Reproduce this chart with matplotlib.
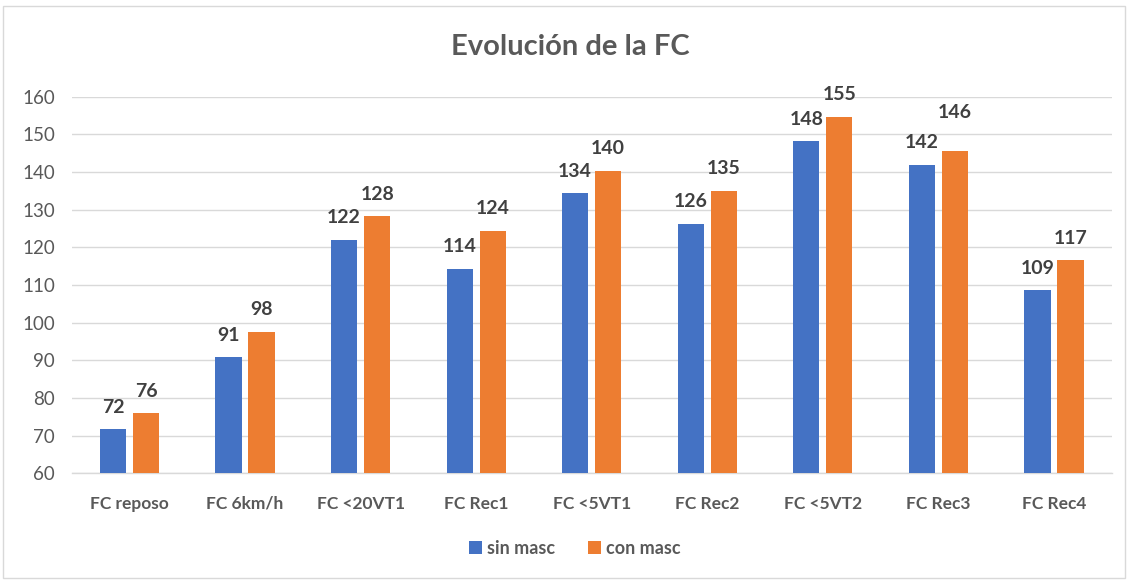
import matplotlib
matplotlib.use("Agg")
import matplotlib.pyplot as plt
from matplotlib.patches import Rectangle
import numpy as np

categories = ["FC reposo", "FC 6km/h", "FC <20VT1", "FC Rec1", "FC <5VT1",
              "FC Rec2", "FC <5VT2", "FC Rec3", "FC Rec4"]
sin_masc = [71.7, 90.8, 122.0, 114.3, 134.3, 126.2, 148.1, 141.9, 108.6]
con_masc = [75.9, 97.6, 128.2, 124.4, 140.3, 135.0, 154.7, 145.6, 116.6]
series_names = ["sin masc", "con masc"]
yticks = [60, 70, 80, 90, 100, 110, 120, 130, 140, 150, 160]

BLUE = "#4472C4"
ORANGE = "#ED7D31"
GRAY = "#595959"
LABEL = "#404040"

plt.rcParams['font.family'] = ['Lato', 'DejaVu Sans']

fig = plt.figure(figsize=(11.3, 5.81), dpi=100)
ax = fig.add_axes([0.0635, 0.1854, 0.9203, 0.6482])

x = np.arange(len(categories))
w = 0.227
off = 0.143
b1 = ax.bar(x - off, sin_masc, w, color=BLUE, label=series_names[0], zorder=3)
b2 = ax.bar(x + off, con_masc, w, color=ORANGE, label=series_names[1], zorder=3)

for bars, vals in ((b1, sin_masc), (b2, con_masc)):
    for rect, v in zip(bars, vals):
        extra = 16 if (vals is con_masc and v == 145.6) else 0
        ax.annotate(f"{round(v):d}", (rect.get_x() + rect.get_width() / 2, v),
                    xytext=(0, 22 + extra), textcoords="offset pixels",
                    ha="center", va="center", fontsize=14, fontweight="bold",
                    color=LABEL, zorder=4)

ax.set_xlim(-0.5, len(categories) - 0.5)
ax.set_ylim(60, 160)
ax.set_yticks(yticks)
ax.set_xticks(x)
ax.set_xticklabels(categories, fontsize=12.5, fontweight="bold", color=GRAY)
ax.tick_params(axis="y", labelsize=13.5, colors=GRAY, length=0, pad=12)
ax.tick_params(axis="x", length=0, pad=16)
ax.grid(axis="y", color="#D9D9D9", linewidth=1.0, zorder=0)
for s in ("top", "right", "left"):
    ax.spines[s].set_visible(False)
ax.spines["bottom"].set_color("#D9D9D9")
ax.spines["bottom"].set_linewidth(1.0)

fig.text(570 / 1130, 1 - 47 / 581, "Evolución de la FC", ha="center", va="center",
         fontsize=21, fontweight="bold", color=GRAY)

leg = fig.legend(loc="center", bbox_to_anchor=(575 / 1130, 1 - 548 / 581),
                 ncol=2, frameon=False, fontsize=13, handlelength=0.7,
                 handleheight=0.7, handletextpad=0.3, columnspacing=1.8)
for t in leg.get_texts():
    t.set_color(GRAY)
    t.set_fontweight("bold")

fig.patches.append(Rectangle((3 / 1130, 3 / 581), 1122 / 1130, 572 / 581,
                             transform=fig.transFigure, fill=False,
                             edgecolor="#D9D9D9", linewidth=1.0))

fig.savefig("out.png", dpi=100)
